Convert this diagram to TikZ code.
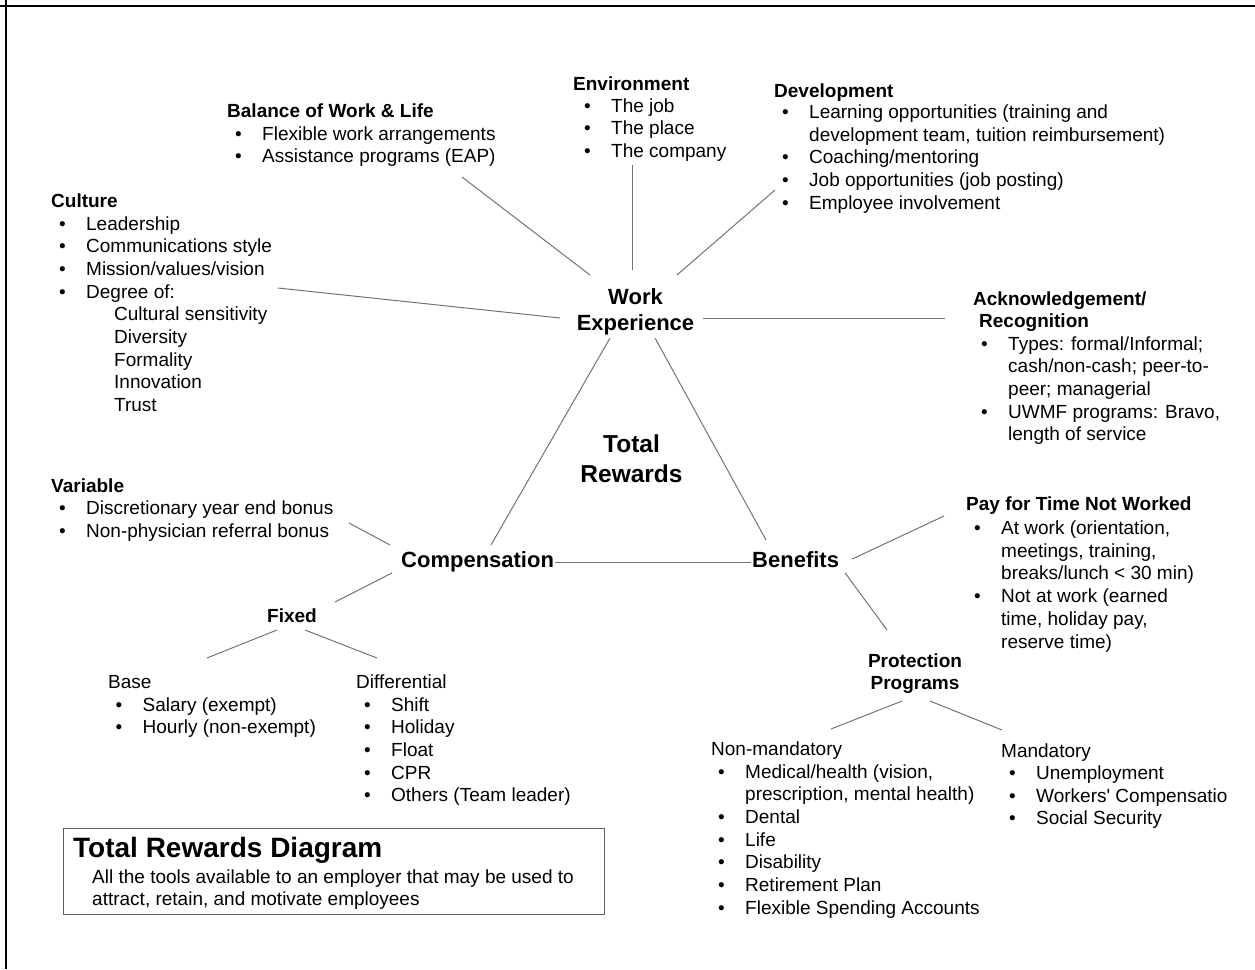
\documentclass[tikz,border=0pt]{standalone}
\usepackage{fontspec}
\setmainfont{Liberation Sans}
\usetikzlibrary{calc}
\definecolor{linkgray}{RGB}{115,115,115}
\definecolor{boxgray}{RGB}{95,95,95}
\newcommand{\bul}{\llap{\textbullet\hspace{20.5pt}}}
\newcommand{\fs}[1]{\fontsize{#1}{22.7}\selectfont}
% multi-line nodes sit on the baseline of their LAST line
\tikzset{
  hd/.style  ={anchor=base west,inner sep=0pt,font=\fs{19}\bfseries},
  lst/.style ={anchor=base west,inner sep=0pt,align=left,font=\fs{19}},
  sub/.style ={anchor=base west,inner sep=0pt,font=\fs{19}},
  hub/.style ={anchor=base west,inner sep=0pt,font=\fontsize{22}{26}\selectfont\bfseries},
  link/.style={draw=linkgray,line width=1pt},
  frame/.style={line width=2.5pt},
}

\begin{document}
\begin{tikzpicture}[x=1pt,y=-1pt]
\useasboundingbox (0,0) rectangle (1255,969);
\draw[frame] (6,0) -- (6,969);
\draw[frame] (0,6) -- (1255,6);

% ===================== HUBS =========================================
\node[hub,anchor=base,align=center] (we) at (635.5,330) {Work\\Experience};
\node[hub,anchor=base,align=center,font=\fontsize{24.5}{30}\selectfont\bfseries] (tr) at (631.5,482) {Total\\Rewards};
\node[hub] (comp) at (401,567) {Compensation};
\node[hub] (ben)  at (752,567) {Benefits};

% ===================== WORK EXPERIENCE ==============================
\node[hd]  (envh) at (573,90)    {Environment};
\node[lst] (env)  at (611,157.4) {\bul The job\\\bul The place\\\bul The company};

\node[hd]  (balh) at (227,117)   {Balance of Work \& Life};
\node[lst] (bal)  at (262,162.7) {\bul Flexible work arrangements\\\bul Assistance programs (EAP)};

\node[hd]  (devh) at (774,97)    {Development};
\node[lst] (dev)  at (809,209.3) {\bul Learning opportunities (training and\\development team, tuition reimbursement)\\
  \bul Coaching/mentoring\\\bul Job opportunities (job posting)\\\bul Employee involvement};

\node[hd]  (culh) at (51,207)   {Culture};
\node[lst] (cul)  at (86,411.6) {\bul Leadership\\\bul Communications style\\\bul Mission/values/vision\\\bul Degree of:\\
  \hspace*{28pt}Cultural sensitivity\\\hspace*{28pt}Diversity\\\hspace*{28pt}Formality\\
  \hspace*{28pt}Innovation\\\hspace*{28pt}Trust};

\node[hd,align=left] (ackh) at (973,327.7) {Acknowledgement/\\\hspace*{6pt}Recognition};
\node[lst] (ack)  at (1008,440.8) {\bul Types: formal/Informal;\\cash/non-cash; peer-to-\\peer; managerial\\
  \bul UWMF programs: Bravo,\\length of service};

% ===================== COMPENSATION =================================
\node[hd]  (varh) at (51,492)   {Variable};
\node[lst] (var)  at (86,537.2) {\bul Discretionary year end bonus\\\bul Non-physician referral bonus};

\node[hd,anchor=base] (fix) at (292,622) {Fixed};
\node[sub] (bash) at (108,688)   {Base};
\node[lst] (bas)  at (142.5,733.7) {\bul Salary (exempt)\\\bul Hourly (non-exempt)};
\node[sub] (difh) at (356,688)   {Differential};
\node[lst] (dif)  at (391,801.8) {\bul Shift\\\bul Holiday\\\bul Float\\\bul CPR\\\bul Others (Team leader)};

% ===================== BENEFITS =====================================
\node[hd]  (payh) at (966,510)  {Pay for Time Not Worked};
\node[lst] (pay)  at (1001,648) {\bul At work (orientation,\\meetings, training,\\breaks/lunch < 30 min)\\
  \bul Not at work (earned\\time, holiday pay,\\reserve time)};

\node[hd,anchor=base,align=center] (prot) at (915,689.7) {Protection\\Programs};
\node[sub] (nonh) at (711,755)   {Non-mandatory};
\node[lst] (non)  at (745,914.2) {\bul Medical/health (vision,\\prescription, mental health)\\\bul Dental\\\bul Life\\
  \bul Disability\\\bul Retirement Plan\\\bul Flexible Spending Accounts};
\node[sub] (manh) at (1001,757)   {Mandatory};
\node[lst] (man)  at (1036,824.9) {\bul Unemployment\\\bul Workers\textquotesingle{} Compensatio\\\bul Social Security};

% ===================== LEGEND =======================================
\node[draw=boxgray,line width=1.2pt,minimum width=541pt,minimum height=86pt,anchor=north west,inner sep=0pt] (leg) at (63,828) {};
\node[anchor=base west,inner sep=0pt,font=\fontsize{28}{32}\selectfont\bfseries] (legt) at (73,857) {Total Rewards Diagram};
\node[lst,font=\fontsize{19}{22}\selectfont] (legs) at (92,905)
  {All the tools available to an employer that may be used to\\attract, retain, and motivate employees};

% ===================== LINKS ========================================
\draw[link] ($(bal.base west)+(200,14.3)$)  -- ($(we.base)+(-45.5,-55)$);
\draw[link] ($(env.base west)+(21,7.6)$)    -- ($(we.base)+(-3.5,-60)$);
\draw[link] ($(dev.base west)+(-34,-19.3)$) -- ($(we.base)+(41.5,-55)$);
\draw[link] ($(cul.base west)+(192,-123.6)$) -- ($(we.base)+(-75.5,-12)$);
\draw[link] ($(we.base)+(67.5,-12)$)        -- ($(ackh.base west)+(-28,-9.7)$);
\draw[link] ($(we.base)+(-25.5,8)$)         -- ($(comp.base west)+(90,-22)$);
\draw[link] ($(we.base)+(19.5,8)$)          -- ($(ben.base west)+(14,-27)$);
\draw[link] ($(comp.base east)+(1,-5)$)     -- ($(ben.base west)+(-1,-5)$);

\draw[link] ($(var.base west)+(263,-14.2)$) -- ($(comp.base west)+(-11,-22)$);
\draw[link] ($(comp.base west)+(-9,6)$)     -- ($(fix.base)+(43,-20)$);
\draw[link] ($(fix.base)+(-15,8)$)          -- ($(bash.base west)+(99,-30)$);
\draw[link] ($(fix.base)+(13,8)$)           -- ($(difh.base west)+(21,-30)$);

\draw[link] ($(ben.base east)+(13,-8)$)     -- ($(payh.base west)+(-22,6)$);
\draw[link] ($(ben.base east)+(6,6)$)       -- ($(prot.base)+(-28,-59.7)$);
\draw[link] ($(prot.base)+(-13,11.3)$)      -- ($(nonh.base west)+(120,-26)$);
\draw[link] ($(prot.base)+(15,11.3)$)       -- ($(manh.base west)+(1,-27)$);

\end{tikzpicture}
\end{document}
